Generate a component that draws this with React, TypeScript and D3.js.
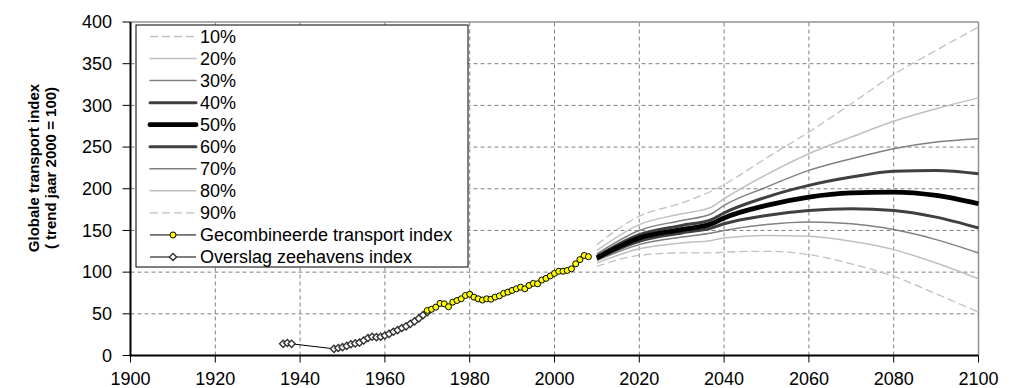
import React from 'react';
import * as d3 from 'd3';

// historical series
const overslagYears = [1936, 1937, 1938, 1948, 1949, 1950, 1951, 1952, 1953, 1954, 1955, 1956, 1957, 1958, 1959, 1960, 1961, 1962, 1963, 1964, 1965, 1966, 1967, 1968, 1969, 1970];
const overslagValues = [14, 15, 14, 8, 9, 10, 11.5, 13.5, 14.5, 15.5, 18, 21, 22.5, 22, 22.5, 24, 26, 28.5, 30.5, 33, 35, 38, 41, 44.5, 48.5, 52];

const transportYears = [1970, 1971, 1972, 1973, 1974, 1975, 1976, 1977, 1978, 1979, 1980, 1981, 1982, 1983, 1984, 1985, 1986, 1987, 1988, 1989, 1990, 1991, 1992, 1993, 1994, 1995, 1996, 1997, 1998, 1999, 2000, 2001, 2002, 2003, 2004, 2005, 2006, 2007, 2008];
const transportValues = [54, 55.5, 58, 62.5, 62, 58.5, 64, 66, 68, 72, 73.5, 70, 68, 66.5, 68, 67.5, 70, 71.5, 74.5, 76, 78, 80, 82, 80, 84, 86.5, 86, 90.5, 92.5, 95.5, 98.5, 101, 101, 102, 104, 110, 115, 120, 118.5];

// percentile projections
const fanYears = [2010, 2020, 2030, 2037, 2040, 2050, 2060, 2070, 2080, 2090, 2100];
const p10 = [133, 167, 183, 197, 205, 237, 268, 302, 337, 366, 394];
const p20 = [126, 157, 170, 178, 188, 217, 242, 262, 281, 296, 309];
const p30 = [122, 150, 162, 170, 180, 202, 222, 236, 248, 256, 260];
const p40 = [119, 145, 156, 163, 171, 190, 204, 214, 221, 222, 218];
const p50 = [117, 141, 151, 158, 165, 180, 190, 195, 196, 192, 182];
const p60 = [116, 137, 147, 153, 158, 168, 174, 176, 174, 166, 153];
const p70 = [114, 133, 142, 147, 150, 157, 160, 158, 151, 139, 123];
const p80 = [111, 128, 135, 138, 141, 144, 143, 137, 127, 111, 92];
const p90 = [107, 120, 123, 123, 124, 125, 121, 110, 95, 74, 52];

const percentLabels = ['10%', '20%', '30%', '40%', '50%', '60%', '70%', '80%', '90%'];
const xTicks = [1900, 1920, 1940, 1960, 1980, 2000, 2020, 2040, 2060, 2080, 2100];
const yTicks = [0, 50, 100, 150, 200, 250, 300, 350, 400];

const fanStyles = [
  { stroke: '#c0c0c0', width: 1.3, dash: '8,4' },
  { stroke: '#c0c0c0', width: 1.5, dash: null },
  { stroke: '#808080', width: 1.5, dash: null },
  { stroke: '#404040', width: 3, dash: null },
  { stroke: '#000000', width: 4.8, dash: null },
  { stroke: '#404040', width: 3, dash: null },
  { stroke: '#808080', width: 1.5, dash: null },
  { stroke: '#c0c0c0', width: 1.5, dash: null },
  { stroke: '#c0c0c0', width: 1.3, dash: '8,4' },
];

const font = 'Liberation Sans, Arial, sans-serif';

function Diamond({ cx, cy }: { cx: number; cy: number }) {
  const s = 3.6;
  return (
    <path
      d={`M${cx},${cy - s}L${cx + s},${cy}L${cx},${cy + s}L${cx - s},${cy}Z`}
      fill="#fff"
      stroke="#333"
      strokeWidth={1.4}
    />
  );
}

export default function App() {
  const width = 1012, height = 388;
  const x = d3.scaleLinear().domain([1900, 2100]).range([130.5, 978.5]);
  const y = d3.scaleLinear().domain([0, 400]).range([355.5, 22]);
  const fans = [p10, p20, p30, p40, p50, p60, p70, p80, p90];
  // draw the lighter outer bands first, the median last
  const drawOrder = [0, 8, 1, 7, 2, 6, 3, 5, 4];

  const fanLine = d3.line<number>()
    .x((_, i) => x(fanYears[i]))
    .y((d) => y(d))
    .curve(d3.curveMonotoneX);
  const histLine = (years: number[]) => d3.line<number>()
    .x((_, i) => x(years[i]))
    .y((d) => y(d));

  const legendX = 136, legendY = 25, rowH = 22.05;

  return (
    <svg width={width} height={height} style={{ position: 'absolute', left: 0, top: 0, background: '#fff' }} fontFamily={font}>
      {/* grid */}
      {xTicks.slice(1, -1).map((t) => (
        <line key={'gx' + t} x1={x(t)} x2={x(t)} y1={y(0)} y2={y(400)} stroke="#808080" strokeDasharray="4,3" />
      ))}
      {yTicks.slice(1, -1).map((t) => (
        <line key={'gy' + t} x1={x(1900)} x2={x(2100)} y1={y(t)} y2={y(t)} stroke="#808080" strokeDasharray="4,3" />
      ))}
      <line x1={x(1900)} x2={x(2100)} y1={y(400)} y2={y(400)} stroke="#909090" strokeWidth={1.5} />
      <line x1={x(2100)} x2={x(2100)} y1={y(400)} y2={y(0)} stroke="#909090" strokeWidth={1.5} />

      {/* fan */}
      {drawOrder.map((i) => (
        <path key={'f' + i} d={fanLine(fans[i]) || ''} fill="none" stroke={fanStyles[i].stroke}
          strokeWidth={fanStyles[i].width} strokeDasharray={fanStyles[i].dash || undefined} />
      ))}

      {/* history */}
      <path d={histLine(overslagYears)(overslagValues) || ''} fill="none" stroke="#000" strokeWidth={1} />
      {overslagValues.map((v, i) => <Diamond key={'d' + i} cx={x(overslagYears[i])} cy={y(v)} />)}
      <path d={histLine(transportYears)(transportValues) || ''} fill="none" stroke="#000" strokeWidth={1} />
      {transportValues.map((v, i) => (
        <circle key={'c' + i} cx={x(transportYears[i])} cy={y(v)} r={3} fill="#ffff00" stroke="#000" strokeWidth={1} />
      ))}

      {/* axes */}
      <line x1={x(1900)} x2={x(1900)} y1={y(400)} y2={y(0)} stroke="#000" strokeWidth={2} />
      <line x1={x(1900) - 1} x2={x(2100)} y1={y(0)} y2={y(0)} stroke="#000" strokeWidth={2} />
      {yTicks.map((t) => (
        <g key={'yt' + t}>
          <line x1={x(1900) - 8} x2={x(1900)} y1={y(t)} y2={y(t)} stroke="#000" />
          <text x={112} y={y(t)} dy="0.35em" textAnchor="end" fontSize={18}>{t}</text>
        </g>
      ))}
      {xTicks.map((t) => (
        <g key={'xt' + t}>
          <line x1={x(t)} x2={x(t)} y1={y(0)} y2={y(0) + 7} stroke="#000" />
          <text x={x(t)} y={385} textAnchor="middle" fontSize={18}>{t}</text>
        </g>
      ))}
      <text transform="translate(39,168) rotate(-90)" textAnchor="middle" fontSize={15} fontWeight="bold">
        <tspan x={0} dy={0}>Globale transport index</tspan>
        <tspan x={0} dy={17}>( trend jaar 2000 = 100)</tspan>
      </text>

      {/* legend */}
      <rect x={legendX} y={legendY} width={332} height={242} fill="#fff" stroke="#000" strokeWidth={1} />
      {percentLabels.map((lab, i) => {
        const cy = 36.5 + i * rowH;
        const s = fanStyles[i];
        return (
          <g key={'l' + i}>
            <line x1={150} x2={196} y1={cy} y2={cy} stroke={s.stroke} strokeWidth={s.width}
              strokeDasharray={s.dash || undefined} strokeLinecap={s.dash ? undefined : 'round'} />
            <text x={200} y={cy} dy="0.36em" fontSize={18}>{lab}</text>
          </g>
        );
      })}
      {(() => {
        const cy1 = 36.5 + 9 * rowH, cy2 = 36.5 + 10 * rowH;
        return (
          <g>
            <line x1={150} x2={196} y1={cy1} y2={cy1} stroke="#000" />
            <circle cx={173} cy={cy1} r={3} fill="#ffff00" stroke="#000" />
            <text x={200} y={cy1} dy="0.36em" fontSize={18}>Gecombineerde transport index</text>
            <line x1={150} x2={196} y1={cy2} y2={cy2} stroke="#000" />
            <Diamond cx={173} cy={cy2} />
            <text x={200} y={cy2} dy="0.36em" fontSize={18}>Overslag zeehavens index</text>
          </g>
        );
      })()}
    </svg>
  );
}
